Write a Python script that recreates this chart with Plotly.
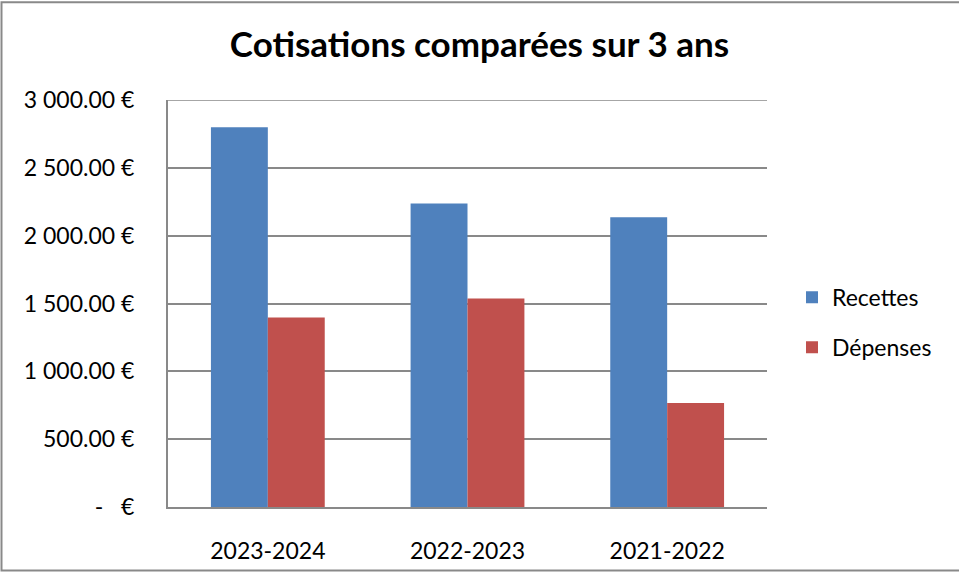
import plotly.graph_objects as go

saisons = ["2023-2024", "2022-2023", "2021-2022"]
recettes = [2800, 2238, 2135]
depenses = [1396, 1537, 766]

tick_vals = [0, 500, 1000, 1500, 2000, 2500, 3000]
tick_text = ["-\u00a0\u00a0\u00a0€", "500.00 €", "1 000.00 €", "1 500.00 €",
             "2 000.00 €", "2 500.00 €", "3 000.00 €"]

BLEU = "#4F81BD"
ROUGE = "#C0504D"
GRIS = "#898989"

# zone de tracé en pixels : x 168..767, y 100..510
L, R, T, B = 168, 192, 100, 66
PW, PH = 959 - L - R, 576 - T - B

fig = go.Figure()
fig.add_trace(go.Bar(
    x=saisons, y=recettes, name="Recettes", legendgroup="r",
    marker=dict(color=BLEU, line=dict(width=0)),
))
fig.add_trace(go.Bar(
    x=saisons, y=depenses, name="Dépenses", legendgroup="d",
    marker=dict(color=ROUGE, line=dict(width=0)),
))

fig.update_layout(
    width=959, height=576,
    title=dict(text="<b>Cotisations comparées sur 3 ans</b>", x=0.5, xanchor="center",
               y=1 - 45 / 576, yanchor="middle", font=dict(size=35, color="black")),
    font=dict(family="Lato, Calibri, Arial", size=23, color="black"),
    plot_bgcolor="white", paper_bgcolor="white",
    barmode="group", bargap=0.43, bargroupgap=0,
    margin=dict(l=L, r=R, t=T, b=B),
    legend=dict(x=1 + 25 / PW, y=(510 - 324) / PH, xanchor="left", yanchor="middle",
                tracegroupgap=17, font=dict(size=23), itemwidth=30),
    showlegend=True,
)
fig.update_xaxes(showline=True, linecolor=GRIS, linewidth=2, showgrid=False,
                 ticks="", ticklabelstandoff=22)
fig.update_yaxes(range=[0, 3000], tickvals=tick_vals, ticktext=tick_text,
                 showline=True, linecolor=GRIS, linewidth=2,
                 showgrid=True, gridcolor=GRIS, gridwidth=1.5, zeroline=False,
                 ticks="", ticklabelstandoff=27)

# ligne de grille du haut (masquée par plotly au bord du tracé)
fig.add_hline(y=tick_vals[-1], line=dict(color=GRIS, width=1.5), layer="below")

# cadre du graphique
fig.add_shape(type="rect", xref="paper", yref="paper",
              x0=(1.5 - L) / PW, x1=(975 - L) / PW,
              y0=(510 - 574) / PH, y1=(510 - 1.5) / PH,
              line=dict(color=GRIS, width=2), fillcolor="rgba(0,0,0,0)", layer="below")

fig.write_html("out.html", config={"displayModeBar": False},
               post_script="document.body.style.margin='0';")
